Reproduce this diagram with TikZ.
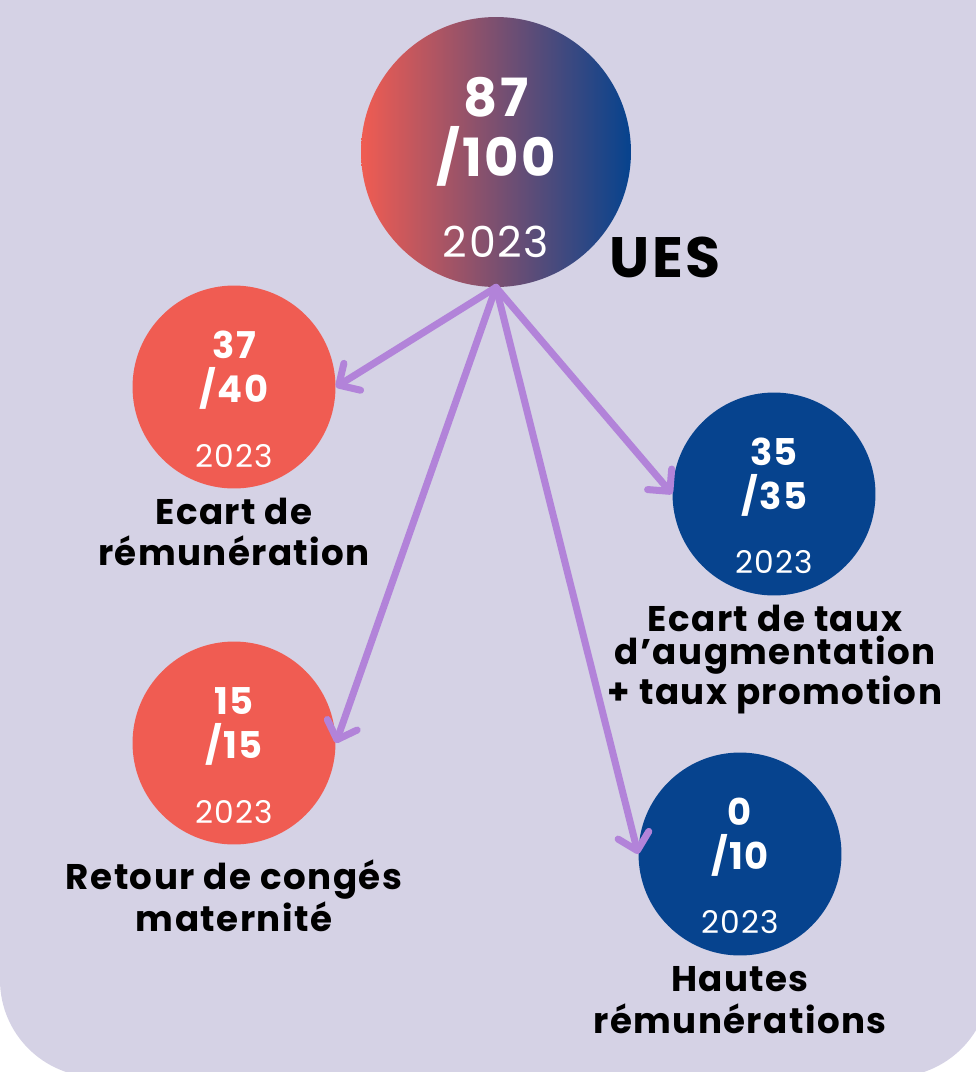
\documentclass[tikz,border=0pt]{standalone}
\usepackage{fontspec}
\setmainfont{Poppins}[LetterSpace=4]
\usetikzlibrary{arrows.meta,positioning}
\definecolor{lavande}{HTML}{D5D2E5}
\definecolor{corail}{HTML}{F05C52}
\definecolor{marine}{HTML}{06438E}
\definecolor{mauve}{HTML}{B283D9}
\tikzset{
  disc/.style={circle, inner sep=0pt, minimum size=4.06cm},
  score/.style={text=white, font=\bfseries\fontsize{21}{25}\selectfont, align=center, inner sep=0pt},
  year/.style={text=white, font=\fontsize{17.8}{20}\selectfont, inner sep=0pt},
  caption/.style={font=\bfseries\fontsize{20.3}{23.8}\selectfont, align=center, inner sep=0pt},
  link/.style={draw=mauve, line width=4pt, line cap=round, -{Straight Barb[length=9pt,width=18pt,round]}}
}

\begin{document}
\begin{tikzpicture}[x=0.02cm, y=-0.02cm]
			%%%%% START %%%%%
			\useasboundingbox (0,0) rectangle (976,1072);
			\fill[lavande, rounded corners=1.94cm] (0,-200) rectangle (990,1077);
			
			% total
			\node[disc, minimum size=5.4cm, left color=corail, right color=marine] (ues) at (496,152) {};
			\node[score, font=\bfseries\fontsize{30}{34.3}\selectfont] (uesScore) at (496,132) {87\\/100};
			\node[year, font=\fontsize{24.3}{28}\selectfont] (uesYear) at (496,242) {2023};
			\node[font=\bfseries\fontsize{32.4}{36}\selectfont, inner sep=0pt] (uesName) at (665,257) {UES};
			
			% left column
			\node[disc, fill=corail] (ecart) at (234,387) {};
			\node[score] (ecartScore) at (234,370) {37\\/40};
			\node[year] (ecartYear) at (234,456) {2023};
			\node[caption] (ecartText) at (234,532) {Ecart de\\rémunération};
			
			\node[disc, fill=corail] (conge) at (234,743) {};
			\node[score] (congeScore) at (234,726) {15\\/15};
			\node[year] (congeYear) at (234,812) {2023};
			\node[caption] (congeText) at (234,896) {Retour de congés\\maternité};
			
			% right column
			\node[disc, fill=marine] (taux) at (774,494) {};
			\node[score] (tauxScore) at (774,477) {35\\/35};
			\node[year] (tauxYear) at (774,562) {2023};
			\node[caption, font=\bfseries\fontsize{20.3}{18.7}\selectfont] (tauxText) at (775,660) {Ecart de taux\\d’augmentation\\+ taux promotion};
			
			\node[disc, fill=marine] (hautes) at (740,854) {};
			\node[score] (hautesScore) at (740,837) {0\\/10};
			\node[year] (hautesYear) at (740,922) {2023};
			\node[caption] (hautesText) at (740,1000) {Hautes\\rémunérations};
			
			% links
			\draw[link] (ues.south) -- (ecart.east);
			\draw[link] (ues.south) -- (conge.east);
			\draw[link] (ues.south) -- (taux.west);
			\draw[link] (ues.south) -- (hautes.west);
			%%%%% END %%%%%
\end{tikzpicture}
\end{document}
